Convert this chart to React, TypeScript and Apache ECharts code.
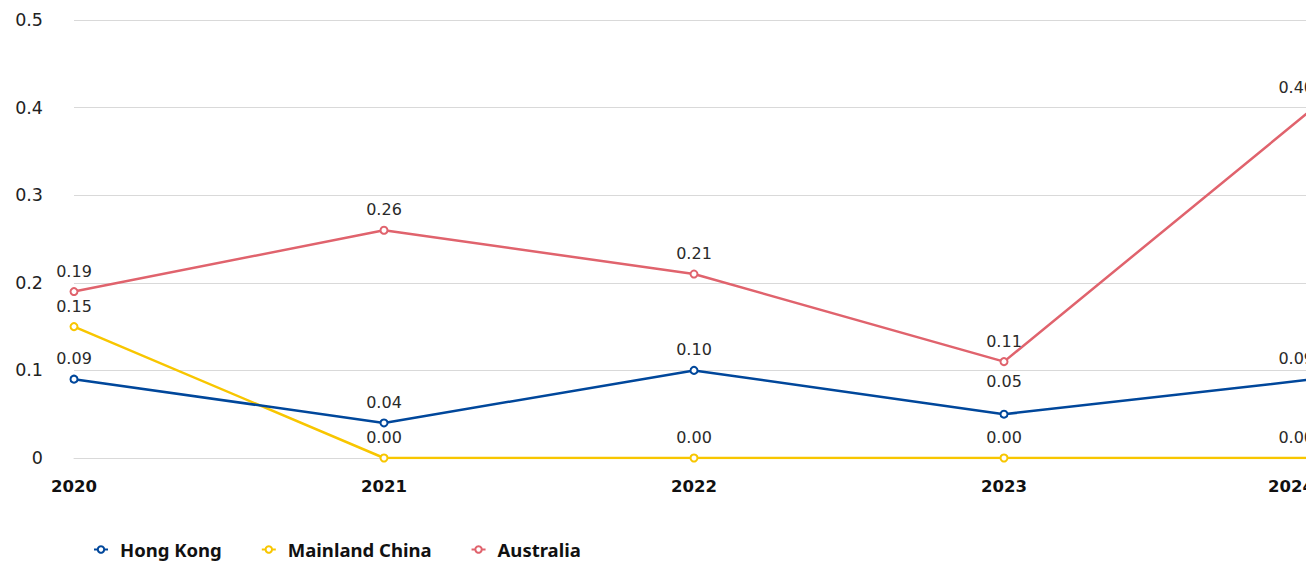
import React, { useEffect, useRef } from "react";
import * as echarts from "echarts";

const years = ["2020", "2021", "2022", "2023", "2024"];
const hongKong = [0.09, 0.04, 0.1, 0.05, 0.09];
const mainlandChina = [0.15, 0.0, 0.0, 0.0, 0.0];
const australia = [0.19, 0.26, 0.21, 0.11, 0.4];
const yTicks = [0, 0.1, 0.2, 0.3, 0.4, 0.5];

const NUM_FONT = "'DejaVu Sans', sans-serif";
const TEXT_FONT = "'Noto Sans', 'Open Sans', sans-serif";

function makeSeries(name: string, values: number[], color: string, z: number, liftIndex?: number) {
  const last = values.length - 1;
  return {
    name,
    type: "line",
    z,
    data: values.map((v, i) => {
      if (i === last) return { value: v, label: { align: "right", offset: [0, 0] } };
      if (liftIndex !== undefined && i === liftIndex) return { value: v, label: { offset: [0, -12] } };
      return v;
    }),
    symbol: "emptyCircle",
    symbolSize: 7,
    showAllSymbol: true,
    lineStyle: { color, width: 2.5 },
    itemStyle: { color, borderColor: color, borderWidth: 2 },
    label: {
      show: true,
      position: "top",
      distance: 8,
      fontFamily: NUM_FONT,
      fontSize: 16,
      color: "#2a2a2a",
      formatter: (p: any) => Number(p.value).toFixed(2),
    },
  };
}

export default function App() {
  const ref = useRef<HTMLDivElement>(null);
  useEffect(() => {
    if (!ref.current) return;
    const chart = echarts.init(ref.current, undefined, { renderer: "svg" });
    chart.setOption({
      animation: false,
      textStyle: { fontFamily: TEXT_FONT },
      grid: { left: 74, right: 86, top: 20, bottom: 104, containLabel: false },
      legend: {
        left: 88,
        top: 535,
        itemWidth: 14,
        itemHeight: 8,
        itemGap: 39,
        textStyle: {
          fontFamily: TEXT_FONT,
          fontSize: 18.5,
          fontWeight: "bold",
          color: "#111",
          padding: [0, 0, 0, 7],
        },
        data: ["Hong Kong", "Mainland China", "Australia"],
      },
      xAxis: {
        type: "category",
        data: years,
        boundaryGap: false,
        axisLine: { show: true, lineStyle: { color: "#d9d9d9", width: 1 } },
        axisTick: { show: false },
        axisLabel: {
          margin: 20,
          fontFamily: NUM_FONT,
          fontSize: 16.5,
          fontWeight: "bold",
          color: "#111",
          alignMaxLabel: "right",
        },
      },
      yAxis: {
        type: "value",
        min: yTicks[0],
        max: yTicks[yTicks.length - 1],
        interval: 0.1,
        axisLine: { show: false },
        axisTick: { show: false },
        splitLine: { lineStyle: { color: "#d9d9d9", width: 1 } },
        axisLabel: {
          margin: 31,
          fontFamily: NUM_FONT,
          fontSize: 17.5,
          color: "#222",
          formatter: (v: number) => (v === 0 ? "0" : String(Math.round(v * 10) / 10)),
        },
      },
      series: [
        makeSeries("Hong Kong", hongKong, "#00479b", 3, 3),
        makeSeries("Mainland China", mainlandChina, "#f8c600", 2),
        makeSeries("Australia", australia, "#e0636d", 4),
      ],
    });
    return () => chart.dispose();
  }, []);
  return (
    <div style={{ position: "fixed", left: 0, top: 0, width: 1306, height: 562, overflow: "hidden", background: "#fff" }}>
      <div ref={ref} style={{ width: 1400, height: 562 }} />
    </div>
  );
}
